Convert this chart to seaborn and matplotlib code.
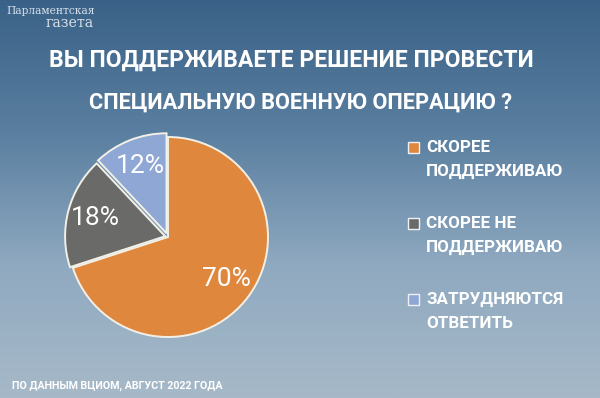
import numpy as np
import matplotlib
matplotlib.use("Agg")
import matplotlib.pyplot as plt
from matplotlib.colors import LinearSegmentedColormap
from matplotlib.patches import Rectangle
import seaborn as sns

# data
categories = ["Скорее поддерживаю", "Скорее не поддерживаю", "Затрудняются ответить"]
legend_lines = [("СКОРЕЕ", "ПОДДЕРЖИВАЮ"), ("СКОРЕЕ НЕ", "ПОДДЕРЖИВАЮ"), ("ЗАТРУДНЯЮТСЯ", "ОТВЕТИТЬ")]
shares = [70, 18, 12]
explode = [0.0, 0.03, 0.04]
colors = ["#E0873E", "#6A6A68", "#8EA7D4"]

title_lines = ["ВЫ ПОДДЕРЖИВАЕТЕ РЕШЕНИЕ ПРОВЕСТИ", "СПЕЦИАЛЬНУЮ ВОЕННУЮ ОПЕРАЦИЮ ?"]
source = "ПО ДАННЫМ ВЦИОМ, АВГУСТ 2022 ГОДА"

sns.set_style("white")
plt.rcParams["font.family"] = ["Roboto", "DejaVu Sans"]
palette = sns.color_palette(colors)

W, H = 600, 398
fig = plt.figure(figsize=(W / 100, H / 100), dpi=100)

# background gradient
bg = fig.add_axes([0, 0, 1, 1])
cmap = LinearSegmentedColormap.from_list("bg", ["#3A6187", "#5A7FA0", "#8FA9C0", "#A7B9C8"])
grad = np.linspace(0, 1, 256).reshape(-1, 1)
bg.imshow(grad, aspect="auto", cmap=cmap, extent=[0, 1, 0, 1], origin="upper")
bg.set_axis_off()


def px(x, y):
    return x / W, 1 - y / H


def fit_size(s, target_w, size=12, **kw):
    t = fig.text(0, 0, s, fontsize=size, **kw)
    fig.canvas.draw()
    w = t.get_window_extent().width
    t.remove()
    return size * target_w / w


bold = dict(color="white", fontweight="bold")

# title
for s, (x, y), tw in zip(title_lines, [(291, 60), (301, 103)], [482, 423]):
    fig.text(*px(x, y), s, fontsize=fit_size(s, tw, fontweight="bold"),
             ha="center", va="center", **bold)

# logo
logo = dict(color="#E8EEF4", family="DejaVu Serif", va="center", ha="left", alpha=0.9)
fig.text(*px(6, 11), "Парламентская",
         fontsize=fit_size("Парламентская", 89, family="DejaVu Serif"), **logo)
fig.text(*px(46, 23), "газета",
         fontsize=fit_size("газета", 48, family="DejaVu Serif"), **logo)

# pie
cx, cy, half = 168, 237, 112
ax = fig.add_axes([(cx - half) / W, (H - cy - half) / H, 2 * half / W, 2 * half / H])
wedges, texts, autotexts = ax.pie(
    shares, colors=palette, explode=explode, startangle=90, counterclock=False,
    radius=1.0, autopct="%d%%", pctdistance=0.72,
    wedgeprops=dict(edgecolor="#F2F0E6", linewidth=1.4),
    textprops=dict(color="white", fontsize=19),
)
ax.set_xlim(-1.12, 1.12)
ax.set_ylim(-1.12, 1.12)
ax.set_aspect("equal")
ax.set_axis_off()

# legend
leg_size = fit_size("ПОДДЕРЖИВАЮ", 137, fontweight="bold")
ys = [147, 223, 299]
for (l1, l2), c, y in zip(legend_lines, colors, ys):
    x0, y0 = px(408, y + 5.5)
    fig.add_artist(Rectangle((x0, y0), 11 / W, 11 / H, transform=fig.transFigure,
                             facecolor=c, edgecolor="#EEF2F6", linewidth=1.0))
    fig.text(*px(426, y), l1, fontsize=leg_size, va="center", ha="left", **bold)
    fig.text(*px(426, y + 24), l2, fontsize=leg_size, va="center", ha="left", **bold)

# source
fig.text(*px(12, 386), source, fontsize=fit_size(source, 210, fontweight="bold"),
         va="center", ha="left", **bold)

fig.savefig("out.png", dpi=100)
